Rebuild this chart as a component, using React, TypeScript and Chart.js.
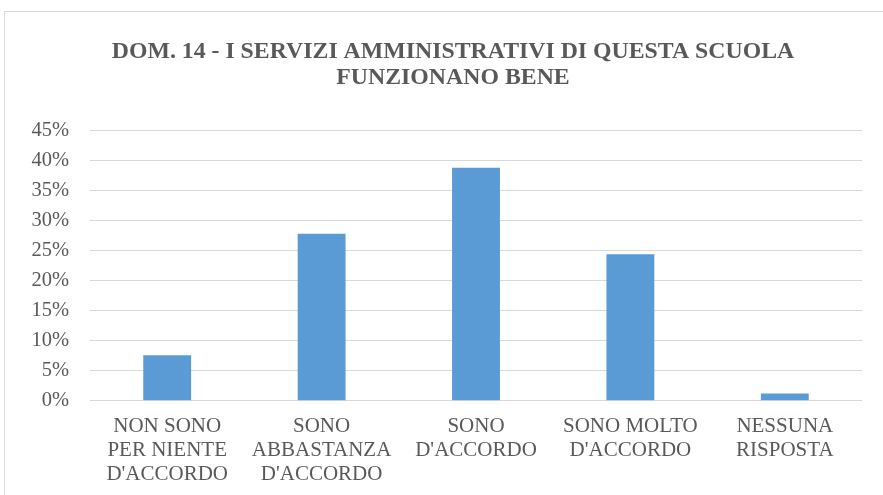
import React, { useEffect, useRef } from "react";
import { Chart, registerables } from "chart.js";

Chart.register(...registerables);

const titleLines = ["DOM. 14 - I SERVIZI AMMINISTRATIVI DI QUESTA SCUOLA", "FUNZIONANO BENE"];
const categories: string[][] = [
  ["NON SONO", "PER NIENTE", "D'ACCORDO"],
  ["SONO", "ABBASTANZA", "D'ACCORDO"],
  ["SONO", "D'ACCORDO"],
  ["SONO MOLTO", "D'ACCORDO"],
  ["NESSUNA", "RISPOSTA"],
];
const values = [7.6, 27.8, 38.8, 24.4, 1.2];
const yMax = 45;
const yStep = 5;

const FONT = "'Liberation Serif', 'Times New Roman', serif";
const TEXT = "#595959";

const titleShift = {
  id: "titleShift",
  afterLayout(chart: any) {
    if (chart.titleBlock) {
      chart.titleBlock.left = 4;
      chart.titleBlock.right = 902;
    }
  },
};

export default function App() {
  const ref = useRef<HTMLCanvasElement | null>(null);
  useEffect(() => {
    if (!ref.current) return;
    const chart = new Chart(ref.current, {
      type: "bar",
      data: {
        labels: categories,
        datasets: [
          {
            data: values,
            backgroundColor: "#5B9BD5",
            borderWidth: 0,
            barPercentage: 0.31,
            categoryPercentage: 1,
          },
        ],
      },
      plugins: [titleShift],
      options: {
        responsive: false,
        animation: false,
        layout: { padding: { left: 0, right: 21, top: 0, bottom: -5 } },
        plugins: {
          legend: { display: false },
          tooltip: { enabled: false },
          title: {
            display: true,
            text: titleLines,
            color: TEXT,
            font: { family: FONT, size: 23.8, weight: "bold", lineHeight: 1.09 },
            padding: { top: 38.5, bottom: 40 },
          },
        },
        scales: {
          x: {
            grid: { display: false, drawTicks: false },
            border: { display: false },
            ticks: {
              color: TEXT,
              font: { family: FONT, size: 21, lineHeight: 1.13 },
              padding: 14,
              maxRotation: 0,
              autoSkip: false,
            },
          },
          y: {
            min: 0,
            max: yMax,
            afterFit: (scale: any) => {
              scale.width = 90;
            },
            grid: { color: "#d9d9d9", lineWidth: 1, drawTicks: false },
            border: { display: false },
            ticks: {
              stepSize: yStep,
              color: TEXT,
              font: { family: FONT, size: 20.5 },
              padding: 21,
              callback: (v: any) => v + "%",
            },
          },
        },
      },
    });
    return () => chart.destroy();
  }, []);

  return (
    <div style={{ position: "fixed", left: 0, top: 0, width: 883, height: 495, overflow: "hidden", background: "#fff" }}>
      <div
        style={{
          position: "absolute",
          left: 4,
          top: 11,
          width: 920,
          height: 520,
          border: "1px solid #d9d9d9",
          boxSizing: "border-box",
        }}
      />
      <canvas ref={ref} width={883} height={495} style={{ position: "absolute", left: 0, top: 0, width: 883, height: 495 }} />
    </div>
  );
}
